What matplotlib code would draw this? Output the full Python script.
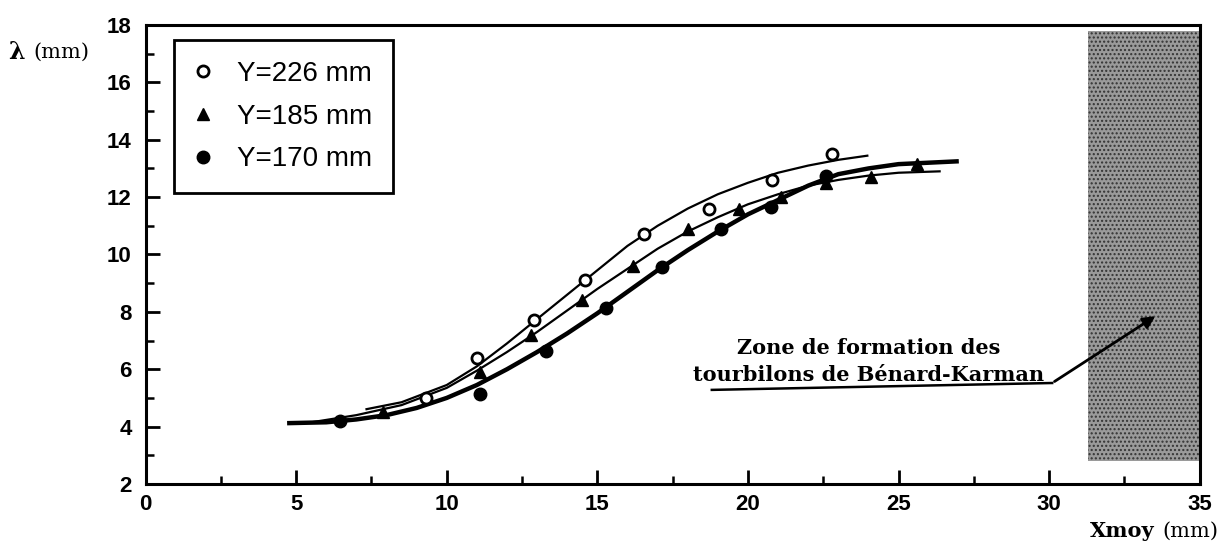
import matplotlib
matplotlib.use("Agg")
import matplotlib.pyplot as plt
from matplotlib.ticker import MultipleLocator

# measured points
x_226 = [9.3, 11.0, 12.9, 14.6, 16.55, 18.7, 20.8, 22.8]
y_226 = [5.0, 6.4, 7.7, 9.1, 10.7, 11.6, 12.6, 13.5]

x_185 = [7.9, 11.1, 12.8, 14.5, 16.2, 18.0, 19.7, 21.1, 22.6, 24.1, 25.6]
y_185 = [4.5, 5.9, 7.2, 8.4, 9.6, 10.9, 11.6, 12.0, 12.5, 12.7, 13.15]

x_170 = [6.45, 11.1, 13.3, 15.3, 17.15, 19.1, 20.75, 22.6]
y_170 = [4.2, 5.15, 6.65, 8.15, 9.55, 10.9, 11.65, 12.75]

# fitted curves
cx_226 = [7.3, 8.5, 10, 11, 12, 13, 14, 15, 16, 17, 18, 19, 20, 21, 22, 23, 24]
cy_226 = [4.6, 4.85, 5.45, 6.1, 6.9, 7.75, 8.6, 9.45, 10.3, 11.0, 11.6, 12.1, 12.5, 12.85, 13.1, 13.3, 13.45]

cx_185 = [5.5, 7, 8.5, 10, 11, 12, 13, 14, 15, 16, 17, 18, 19, 20, 21, 22, 23, 24, 25, 26.4]
cy_185 = [4.15, 4.4, 4.75, 5.35, 5.95, 6.6, 7.3, 8.05, 8.8, 9.5, 10.2, 10.8, 11.3, 11.75, 12.1, 12.4, 12.6, 12.75, 12.85, 12.9]

cx_170 = [4.7, 6, 7, 8, 9, 10, 11, 12, 13, 14, 15, 16, 17, 18, 19, 20, 21, 22, 23, 24, 25, 27]
cy_170 = [4.12, 4.15, 4.25, 4.4, 4.65, 5.0, 5.45, 6.0, 6.6, 7.25, 7.95, 8.7, 9.45, 10.15, 10.8, 11.4, 11.9, 12.4, 12.8, 13.0, 13.15, 13.25]

labels = ["Y=226 mm", "Y=185 mm", "Y=170 mm"]

# shaded zone (Benard-Karman)
zone_x = [31.3, 35]
zone_y = [2.8, 17.8]

fig = plt.figure(figsize=(12.23, 5.46), dpi=100)
ax = fig.add_axes([0.119, 0.1136, 0.862, 0.8406])

ax.fill_between(zone_x, zone_y[0], zone_y[1], facecolor="#9a9a9a",
                edgecolor="#333333", hatch="....", linewidth=0, zorder=1)

ax.plot(cx_226, cy_226, color="black", lw=1.6, solid_capstyle="butt", zorder=3)
ax.plot(cx_185, cy_185, color="black", lw=1.6, solid_capstyle="butt", zorder=3)
ax.plot(cx_170, cy_170, color="black", lw=3.2, solid_capstyle="butt", zorder=3)

ax.plot(x_226, y_226, "o", ms=8, mfc="white", mec="black", mew=2, ls="none",
        label=labels[0], zorder=4)
ax.plot(x_185, y_185, "^", ms=9, color="black", ls="none", label=labels[1], zorder=4)
ax.plot(x_170, y_170, "o", ms=9, color="black", ls="none", label=labels[2], zorder=4)

ax.set_xlim(0, 35)
ax.set_ylim(2, 18)
ax.xaxis.set_major_locator(MultipleLocator(5))
ax.xaxis.set_minor_locator(MultipleLocator(2.5))
ax.yaxis.set_major_locator(MultipleLocator(2))
ax.yaxis.set_minor_locator(MultipleLocator(1))
ax.tick_params(which="major", direction="in", length=10, width=2, pad=10,
               top=False, right=False, labelsize=16)
ax.tick_params(axis="x", which="major", pad=7)
ax.tick_params(which="minor", direction="in", length=6, width=1.8,
               top=False, right=False)
for lab in ax.get_xticklabels() + ax.get_yticklabels():
    lab.set_fontfamily("Liberation Sans")
    lab.set_fontweight("bold")
for s in ax.spines.values():
    s.set_linewidth(2.2)

leg = ax.legend(loc="upper left", bbox_to_anchor=(0.027, 0.967), handlelength=0.6,
                handletextpad=0.9, labelspacing=0.6, borderpad=0.75,
                borderaxespad=0, fancybox=False, framealpha=1,
                prop={"family": "Liberation Sans", "size": 20})
leg.get_frame().set_edgecolor("black")
leg.get_frame().set_linewidth(2)

ax.annotate("", xy=(33.6, 7.9), xytext=(30.1, 5.52),
            arrowprops=dict(arrowstyle="-|>", color="black", lw=2, mutation_scale=18),
            zorder=5)
ax.plot([18.8, 30.1], [5.28, 5.52], color="black", lw=1.8, zorder=5)
ax.text(24.0, 5.6, "Zone de formation des\ntourbilons de Bénard-Karman",
        ha="center", va="baseline", family="DejaVu Serif", fontweight="bold",
        fontsize=15, linespacing=1.4, zorder=5)

fig.text(0.007, 0.905, "λ", family="DejaVu Serif", fontsize=17, fontweight="bold",
         ha="left", va="center")
fig.text(0.027, 0.905, "(mm)", family="DejaVu Serif", fontsize=15,
         ha="left", va="center")
fig.text(0.944, 0.016, "Xmoy", family="DejaVu Serif", fontsize=15, fontweight="bold",
         ha="right", va="baseline")
fig.text(0.996, 0.016, "(mm)", family="DejaVu Serif", fontsize=15,
         ha="right", va="baseline")

fig.savefig("out.png", dpi=100)
